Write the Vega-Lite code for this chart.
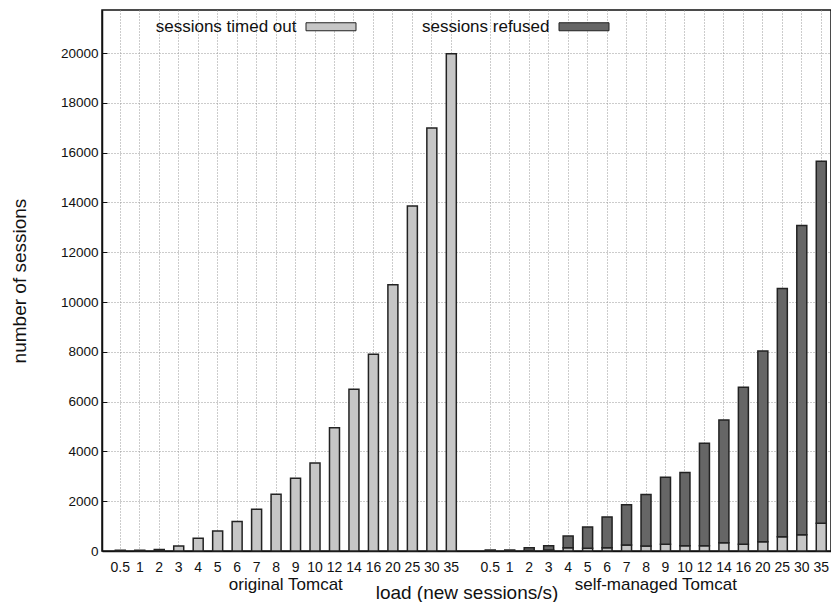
{
  "$schema": "https://vega.github.io/schema/vega-lite/v6.json",
  "width": 729,
  "height": 541,
  "autosize": "none",
  "padding": {"left": 102, "top": 10, "right": 0, "bottom": 51},
  "background": "white",
  "config": {
    "font": "Liberation Sans",
    "view": {"stroke": "#111", "strokeWidth": 1.5},
    "axis": {
      "gridColor": "#999",
      "gridDash": [1, 2],
      "gridWidth": 1,
      "gridOpacity": 1,
      "domainColor": "#111",
      "domainWidth": 1.5,
      "labelColor": "#111",
      "titleColor": "#111",
      "labelFont": "Liberation Sans",
      "titleFont": "Liberation Sans",
      "titleFontWeight": "normal"
    }
  },
  "data": {
    "values": [
      {"key": "o:0.5", "series": "sessions timed out", "value": 30},
      {"key": "o:1", "series": "sessions timed out", "value": 30},
      {"key": "o:2", "series": "sessions timed out", "value": 60},
      {"key": "o:3", "series": "sessions timed out", "value": 200},
      {"key": "o:4", "series": "sessions timed out", "value": 510},
      {"key": "o:5", "series": "sessions timed out", "value": 800},
      {"key": "o:6", "series": "sessions timed out", "value": 1180},
      {"key": "o:7", "series": "sessions timed out", "value": 1675},
      {"key": "o:8", "series": "sessions timed out", "value": 2280},
      {"key": "o:9", "series": "sessions timed out", "value": 2920},
      {"key": "o:10", "series": "sessions timed out", "value": 3535},
      {"key": "o:12", "series": "sessions timed out", "value": 4955},
      {"key": "o:14", "series": "sessions timed out", "value": 6495},
      {"key": "o:16", "series": "sessions timed out", "value": 7900},
      {"key": "o:20", "series": "sessions timed out", "value": 10690},
      {"key": "o:25", "series": "sessions timed out", "value": 13860},
      {"key": "o:30", "series": "sessions timed out", "value": 16990},
      {"key": "o:35", "series": "sessions timed out", "value": 19970},
      {"key": "s:0.5", "series": "sessions refused", "value": 40},
      {"key": "s:1", "series": "sessions refused", "value": 40},
      {"key": "s:2", "series": "sessions timed out", "value": 20},
      {"key": "s:2", "series": "sessions refused", "value": 115},
      {"key": "s:3", "series": "sessions timed out", "value": 40},
      {"key": "s:3", "series": "sessions refused", "value": 175},
      {"key": "s:4", "series": "sessions timed out", "value": 135},
      {"key": "s:4", "series": "sessions refused", "value": 465},
      {"key": "s:5", "series": "sessions timed out", "value": 110},
      {"key": "s:5", "series": "sessions refused", "value": 855},
      {"key": "s:6", "series": "sessions timed out", "value": 135},
      {"key": "s:6", "series": "sessions refused", "value": 1235},
      {"key": "s:7", "series": "sessions timed out", "value": 240},
      {"key": "s:7", "series": "sessions refused", "value": 1620},
      {"key": "s:8", "series": "sessions timed out", "value": 200},
      {"key": "s:8", "series": "sessions refused", "value": 2066},
      {"key": "s:9", "series": "sessions timed out", "value": 270},
      {"key": "s:9", "series": "sessions refused", "value": 2690},
      {"key": "s:10", "series": "sessions timed out", "value": 210},
      {"key": "s:10", "series": "sessions refused", "value": 2940},
      {"key": "s:12", "series": "sessions timed out", "value": 210},
      {"key": "s:12", "series": "sessions refused", "value": 4117},
      {"key": "s:14", "series": "sessions timed out", "value": 335},
      {"key": "s:14", "series": "sessions refused", "value": 4928},
      {"key": "s:16", "series": "sessions timed out", "value": 270},
      {"key": "s:16", "series": "sessions refused", "value": 6307},
      {"key": "s:20", "series": "sessions timed out", "value": 375},
      {"key": "s:20", "series": "sessions refused", "value": 7655},
      {"key": "s:25", "series": "sessions timed out", "value": 575},
      {"key": "s:25", "series": "sessions refused", "value": 9965},
      {"key": "s:30", "series": "sessions timed out", "value": 655},
      {"key": "s:30", "series": "sessions refused", "value": 12415},
      {"key": "s:35", "series": "sessions timed out", "value": 1110},
      {"key": "s:35", "series": "sessions refused", "value": 14540}
    ]
  },
  "layer": [
    {
      "mark": {"type": "bar", "width": 10, "stroke": "#222", "strokeWidth": 1.5},
      "encoding": {
        "x": {
          "field": "key",
          "type": "nominal",
          "scale": {
            "domain": ["o:0.5","o:1","o:2","o:3","o:4","o:5","o:6","o:7","o:8","o:9","o:10","o:12","o:14","o:16","o:20","o:25","o:30","o:35","gap","s:0.5","s:1","s:2","s:3","s:4","s:5","s:6","s:7","s:8","s:9","s:10","s:12","s:14","s:16","s:20","s:25","s:30","s:35"],
            "paddingInner": 0,
            "paddingOuter": 0.22,
            "align": 1
          },
          "axis": {
            "orient": "bottom",
            "values": ["o:0.5","o:1","o:2","o:3","o:4","o:5","o:6","o:7","o:8","o:9","o:10","o:12","o:14","o:16","o:20","o:25","o:30","o:35","s:0.5","s:1","s:2","s:3","s:4","s:5","s:6","s:7","s:8","s:9","s:10","s:12","s:14","s:16","s:20","s:25","s:30","s:35"],
            "labelExpr": "slice(datum.value, 2)",
            "labelAngle": 0,
            "labelFontSize": 14,
            "labelPadding": 9,
            "labelOverlap": false,
            "ticks": false,
            "grid": true,
            "title": null
          }
        },
        "y": {
          "field": "value",
          "type": "quantitative",
          "stack": "zero",
          "scale": {"domain": [0, 21730], "nice": false},
          "axis": {
            "values": [0,2000,4000,6000,8000,10000,12000,14000,16000,18000,20000],
            "format": "d",
            "title": "number of sessions",
            "titleFontSize": 19,
            "titlePadding": 31,
            "labelFontSize": 13.5,
            "labelPadding": 9,
            "ticks": true,
            "tickSize": -5,
            "tickColor": "#111",
            "tickWidth": 1,
            "grid": true
          }
        },
        "color": {
          "field": "series",
          "type": "nominal",
          "scale": {"domain": ["sessions timed out", "sessions refused"], "range": ["#c6c6c6", "#666666"]},
          "legend": {
            "orient": "none",
            "legendX": 203.5,
            "legendY": -9,
            "direction": "horizontal",
            "title": null,
            "symbolType": "M-1,-0.16H1V0.16H-1Z",
            "symbolSize": 2500,
            "symbolStrokeColor": "#222",
            "symbolStrokeWidth": 1,
            "symbolOpacity": 1,
            "labelFontSize": 17,
            "labelColor": "#111",
            "labelAlign": "right",
            "labelOffset": -60,
            "columnPadding": 63,
            "padding": 0
          }
        },
        "order": {"field": "series", "sort": "descending"}
      }
    },
    {
      "mark": {"type": "point", "opacity": 0},
      "encoding": {
        "x": {
          "field": "key",
          "type": "nominal",
          "axis": {
            "orient": "bottom",
            "values": ["o:9", "s:9"],
            "labelExpr": "datum.value == 'o:9' ? 'original Tomcat' : 'self-managed Tomcat'",
            "labelOffset": -9.7,
            "labelAngle": 0,
            "labelFontSize": 17,
            "labelPadding": 25,
            "labelOverlap": false,
            "ticks": false,
            "domain": false,
            "grid": false,
            "title": "load (new sessions/s)",
            "titleFontSize": 19,
            "titlePadding": -9
          }
        }
      }
    }
  ],
  "resolve": {"axis": {"x": "independent"}}
}
